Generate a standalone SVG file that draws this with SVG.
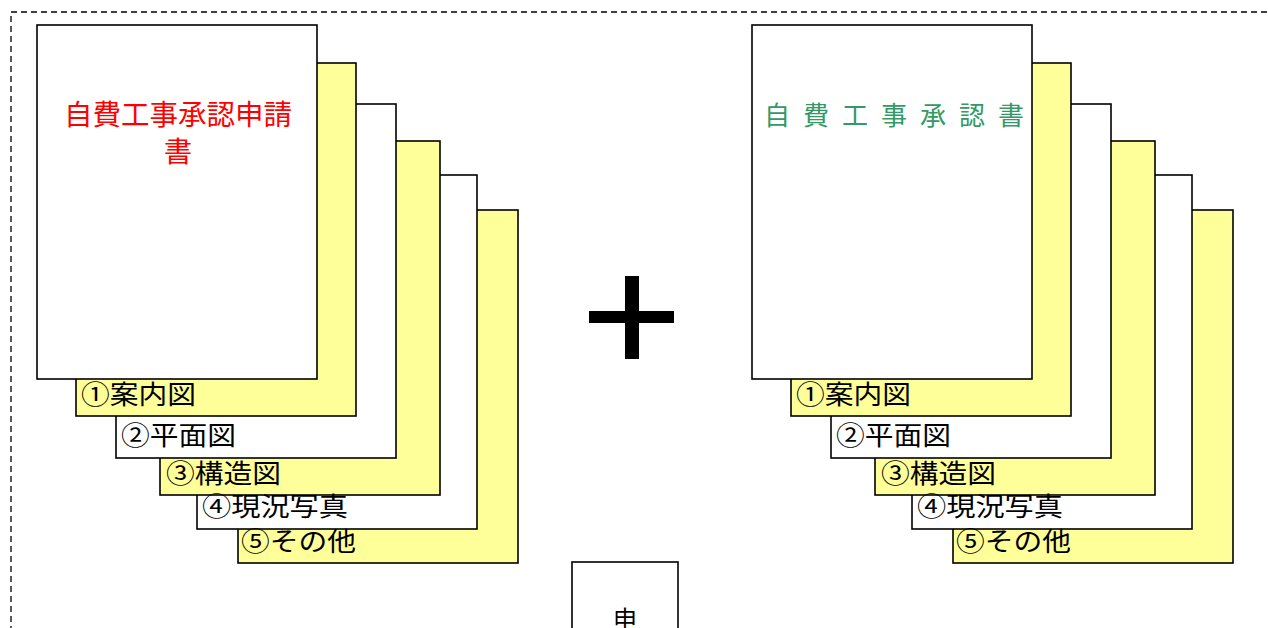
<svg xmlns="http://www.w3.org/2000/svg" width="1268" height="628" viewBox="0 0 1268 628">
<style>
.pg{stroke:#000;stroke-width:1.6}
.y{fill:#FFFF99}
.w{fill:#fff}
.lb{font-family:"Noto Sans CJK JP","Noto Sans",sans-serif;font-size:26px;fill:#000}
.t{font-family:"Noto Sans CJK JP","Noto Sans",sans-serif}
</style>
<rect width="1268" height="628" fill="#fff"/>
<rect x="11" y="12" width="1300" height="700" fill="none" stroke="#000" stroke-width="1.3" stroke-dasharray="6,4"/>
<g id="stack-left">
<rect class="pg y" x="238" y="210" width="280" height="353"/>
<rect class="pg w" x="197" y="175" width="280" height="354"/>
<rect class="pg y" x="160" y="141" width="280" height="354"/>
<rect class="pg w" x="116" y="104" width="280" height="354"/>
<rect class="pg y" x="76" y="63" width="280" height="353"/>
<rect class="pg w" x="37" y="25" width="280" height="354"/>
<text class="lb" x="81" y="404" textLength="115" lengthAdjust="spacingAndGlyphs">①案内図</text>
<text class="lb" x="121" y="445" textLength="115" lengthAdjust="spacingAndGlyphs">②平面図</text>
<text class="lb" x="166" y="483" textLength="115" lengthAdjust="spacingAndGlyphs">③構造図</text>
<text class="lb" x="202" y="516" textLength="146" lengthAdjust="spacingAndGlyphs">④現況写真</text>
<text class="lb" x="241" y="551" textLength="115" lengthAdjust="spacingAndGlyphs">⑤その他</text>
<text class="t" x="178" y="125" text-anchor="middle" fill="#FF0000" font-size="28.5">自費工事承認申請</text>
<text class="t" x="178" y="162" text-anchor="middle" fill="#FF0000" font-size="28.5">書</text>
</g>
<g id="plus">
<rect x="625" y="276" width="14" height="83" fill="#000"/>
<rect x="589" y="311" width="85" height="12" fill="#000"/>
</g>
<g id="stack-right">
<rect class="pg y" x="953" y="210" width="280" height="353"/>
<rect class="pg w" x="912" y="175" width="280" height="354"/>
<rect class="pg y" x="875" y="141" width="280" height="354"/>
<rect class="pg w" x="831" y="104" width="280" height="354"/>
<rect class="pg y" x="791" y="63" width="280" height="353"/>
<rect class="pg w" x="752" y="25" width="280" height="354"/>
<text class="lb" x="796" y="404" textLength="115" lengthAdjust="spacingAndGlyphs">①案内図</text>
<text class="lb" x="836" y="445" textLength="115" lengthAdjust="spacingAndGlyphs">②平面図</text>
<text class="lb" x="881" y="483" textLength="115" lengthAdjust="spacingAndGlyphs">③構造図</text>
<text class="lb" x="917" y="516" textLength="146" lengthAdjust="spacingAndGlyphs">④現況写真</text>
<text class="lb" x="956" y="551" textLength="115" lengthAdjust="spacingAndGlyphs">⑤その他</text>
<text class="t" x="764" y="125" fill="#339966" font-size="26" letter-spacing="13">自費工事承認書</text>
</g>
<g id="box-bottom">
<rect class="pg w" x="572" y="562" width="106" height="80"/>
<text class="t" x="625" y="628" text-anchor="middle" font-size="24">申</text>
</g>
<g id="connectors"></g>
</svg>
